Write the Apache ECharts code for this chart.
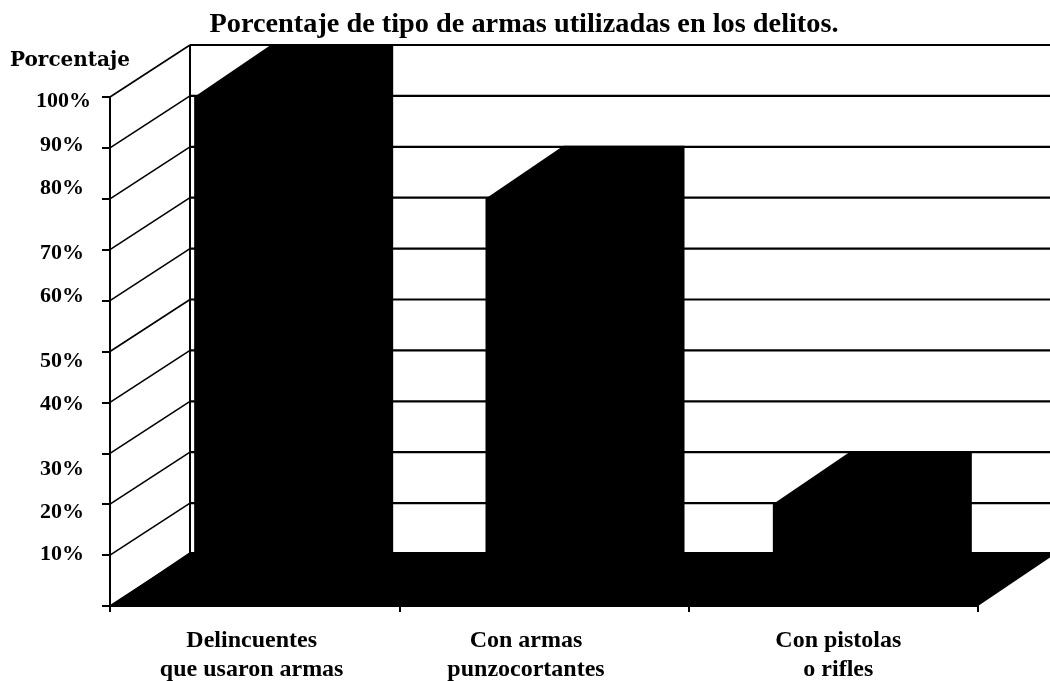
<!DOCTYPE html>
<html><head><meta charset="utf-8">
<style>html,body{margin:0;padding:0;background:#fff}#c{width:1050px;height:681px}</style>
<script src="https://cdn.jsdelivr.net/npm/echarts@6/dist/echarts.min.js"></script>
</head><body><div id="c"></div>
<script>
const categories = ['Delincuentes\nque usaron armas', 'Con armas\npunzocortantes', 'Con pistolas\no rifles'];
const values = [100, 80, 20];
const tickValues = [0, 10, 20, 30, 40, 50, 60, 70, 80, 90, 100];
const tickLabels = ['10%', '20%', '30%', '40%', '50%', '60%', '70%', '80%', '90%', '100%'];
const labelValues = [10, 20, 30, 40, 50, 60, 70, 80, 90, 100];

// layout only: the scanned original's hand-placed labels
const yLabelNudge = [-1, 8, 16, 2, 10, -4, 4, -10, -3, 4];
const yLabelRight = [84, 84, 84, 84, 84, 84, 84, 84, 84, 91];
const xLabelNudge = [-3, -18, 5];
const barNudge = [0, 2, 0];
const wallDx = 80, wallDy = 52, barDx = 78, barDy = 53, barW = 121;
const FONT = '"Liberation Serif", serif';

const chart = echarts.init(document.getElementById('c'), null, {renderer: 'canvas'});
const bandLeft = api => api.coord([0, 0])[0] - api.size([1, 0])[0] / 2;

chart.setOption({
  animation: false,
  backgroundColor: '#fff',
  title: {
    text: 'Porcentaje de tipo de armas utilizadas en los delitos.',
    left: 519, top: 6, textAlign: 'center',
    textStyle: {fontFamily: FONT, fontWeight: 'bold', fontSize: 28.3, color: '#000'}
  },
  grid: {left: 110, right: 72, top: 97, bottom: 75},
  xAxis: {
    type: 'category', data: categories,
    axisLine: {lineStyle: {color: '#000', width: 2}},
    axisTick: {show: true, length: 6, lineStyle: {color: '#000', width: 2}},
    axisLabel: {show: false}, splitLine: {show: false}
  },
  yAxis: {
    type: 'value', min: 0, max: 100, interval: 10,
    name: 'Porcentaje', nameLocation: 'end', nameGap: 26,
    nameTextStyle: {fontFamily: '"DejaVu Serif", serif', fontWeight: 'bold', fontSize: 20, color: '#000', align: 'center', padding: [0, 80, 0, 0]},
    axisLine: {show: true, lineStyle: {color: '#000', width: 2}},
    axisTick: {show: true, length: 8, lineStyle: {color: '#000', width: 2}},
    axisLabel: {show: false}, splitLine: {show: false}
  },
  series: [
    { // back wall gridlines and the side-wall depth lines, one per tick
      type: 'custom', z: 1, silent: true,
      data: tickValues.map(v => [0, v]), encode: {x: 0, y: 1},
      renderItem(p, api) {
        const v = api.value(1), y = api.coord([0, v])[1], x0 = bandLeft(api);
        const band = api.size([1, 0])[0], n = categories.length;
        const style = {stroke: '#000', lineWidth: 1.6, fill: null};
        const kids = [
          {type: 'line', shape: {x1: x0, y1: y, x2: x0 + wallDx, y2: y - wallDy}, style},
          {type: 'line', shape: {x1: x0 + wallDx, y1: y - wallDy, x2: x0 + band * n + wallDx, y2: y - wallDy}, style: {stroke: '#000', lineWidth: 2.2}}
        ];
        if (v === 100) {
          const yb = api.coord([0, 0])[1] - wallDy;
          kids.push({type: 'line', shape: {x1: x0 + wallDx, y1: y - wallDy, x2: x0 + wallDx, y2: yb}, style: {stroke: '#000', lineWidth: 2}});
        }
        return {type: 'group', children: kids};
      }
    },
    { // floor
      type: 'custom', z: 2, silent: true,
      data: [[0, 0]], encode: {x: 0, y: 1},
      renderItem(p, api) {
        const y = api.coord([0, 0])[1], x0 = bandLeft(api), w = api.size([1, 0])[0] * categories.length;
        return {type: 'polygon', shape: {points: [[x0, y], [x0 + w, y], [x0 + w + wallDx, y - wallDy - 2], [x0 + wallDx, y - wallDy - 2]]}, style: {fill: '#000'}};
      }
    },
    { // bars
      type: 'custom', z: 3, name: 'Porcentaje',
      data: values.map((v, i) => [i, v]), encode: {x: 0, y: 1},
      renderItem(p, api) {
        const i = api.value(0), c = api.coord([i, api.value(1)]), base = api.coord([i, 0])[1];
        const l = c[0] - barW / 2 + barNudge[i], r = l + barW, t = c[1];
        return {type: 'polygon', shape: {points: [[l, t], [l + barDx, t - barDy], [r + barDx, t - barDy], [r + barDx, base - barDy], [r, base], [l, base]]}, style: {fill: '#000'}};
      }
    },
    { // y tick labels
      type: 'custom', z: 4, silent: true,
      data: labelValues.map((v, i) => [0, v, i]), encode: {x: 0, y: 1},
      renderItem(p, api) {
        const i = api.value(2), y = api.coord([0, api.value(1)])[1] + yLabelNudge[i];
        return {type: 'text', x: yLabelRight[i], y, style: {text: tickLabels[i], fill: '#000', font: 'bold 22px ' + FONT, textAlign: 'right', textVerticalAlign: 'middle'}};
      }
    },
    { // x category labels
      type: 'custom', z: 4, silent: true,
      data: categories.map((c, i) => [i, 0]), encode: {x: 0, y: 1},
      renderItem(p, api) {
        const i = api.value(0), c = api.coord([i, 0]);
        return {type: 'text', x: c[0] + xLabelNudge[i], y: c[1] + 49, style: {text: categories[i], fill: '#000', font: 'bold 24px ' + FONT, textAlign: 'center', textVerticalAlign: 'middle', lineHeight: 29}};
      }
    }
  ]
});
</script></body></html>
